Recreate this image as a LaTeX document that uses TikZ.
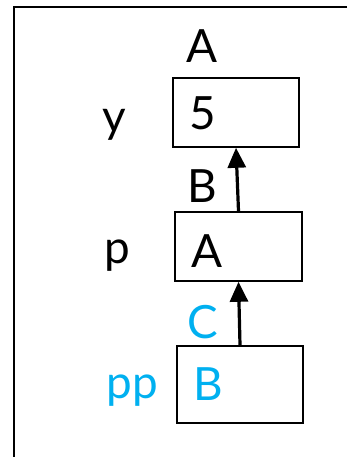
\documentclass[tikz,border=0pt]{standalone}
\usepackage{fontspec}
\setmainfont{Lato}
\usetikzlibrary{arrows.meta}
\definecolor{ppcyan}{RGB}{0,176,240}
\tikzset{
  membox/.style={draw, line width=1.6bp, minimum width=126bp, minimum height=69bp, inner sep=0pt},
  celltext/.style={anchor=base, font=\fontsize{46}{50}\selectfont, inner sep=0pt},
  ptrarrow/.style={-{Triangle[length=20bp, width=18bp]}, line width=3.2bp},
  frameline/.style={line width=2.5bp}
}
\begin{document}
\begin{tikzpicture}[x=1bp, y=-1bp]
  \useasboundingbox (0,0) rectangle (347,457);
  \draw[frameline] (347,7) -- (14,7) -- (14,457);

  % memory cells
  \node[membox] (ybox) at (236,112.5) {};
  \node[membox, minimum width=127bp] (pbox) at (238.5,246.5) {};
  \node[membox, minimum height=77bp] (ppbox) at (240,384.5) {};

  % addresses
  \node[celltext] (addra) at (202,63) {A};
  \node[celltext] (addrb) at (202,203) {B};
  \node[celltext, text=ppcyan] (addrc) at (203,338) {C};

  % variable names
  \node[celltext] (yname) at (114,133) {y};
  \node[celltext] (pname) at (117,263) {p};
  \node[celltext, text=ppcyan] (ppname) at (132,398) {pp};

  % contents
  \node[celltext] (yval) at (203,130) {5};
  \node[celltext] (pval) at (207,267) {A};
  \node[celltext, text=ppcyan] (ppval) at (208,400) {B};

  \draw[ptrarrow] (pbox.north) -- (ybox.south);
  \draw[ptrarrow] (ppbox.north) -- (pbox.south);
\end{tikzpicture}
\end{document}
